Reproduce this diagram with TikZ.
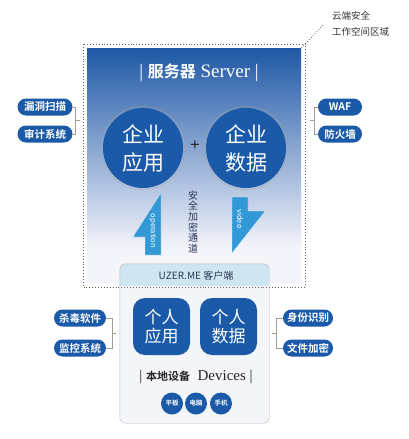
\documentclass[tikz,border=0pt]{standalone}
\usepackage{fontspec}
\setmainfont{Liberation Serif}
\newfontfamily\cjk{Noto Sans CJK SC}
\newfontfamily\cjkb{Noto Sans CJK SC Bold}
\usetikzlibrary{calc}

\definecolor{srvblue}{HTML}{1E58A6}
\definecolor{srvmid}{HTML}{8FA6DC}
\definecolor{srvlow}{HTML}{F4F4FB}
\definecolor{pillblue}{HTML}{1A5AA8}
\definecolor{arrowblue}{HTML}{3398D6}
\definecolor{hdrblue}{HTML}{CFE5F1}
\definecolor{cltgray}{HTML}{F4F5F8}
\definecolor{brkgray}{HTML}{A39C92}
\definecolor{txtnavy}{HTML}{2B3A55}

\tikzset{
  pill/.style={fill=pillblue, text=white, rounded corners=8.5pt, minimum height=17pt,
    inner xsep=2pt, inner ysep=0pt, font=\cjkb\fontsize{10.5}{12}\selectfont},
  bigdisc/.style={circle, fill=pillblue, minimum size=80pt, inner sep=0pt, text=white,
    align=center, font=\cjk\fontsize{21}{28}\selectfont},
  ring/.style={draw=gray!70, densely dotted, line width=0.8pt},
  ownbox/.style={fill=pillblue, rounded corners=12pt, minimum width=57pt, minimum height=57pt,
    inner sep=0pt, text=white, align=center, font=\cjk\fontsize{17}{19}\selectfont},
  devdisc/.style={circle, fill=pillblue, minimum size=22pt, inner sep=0pt, text=white,
    font=\cjkb\fontsize{6.5}{7}\selectfont},
  flowarrow/.style={fill=arrowblue, draw=white!80!arrowblue, densely dotted, line width=0.6pt},
  brk/.style={draw=brkgray, line width=0.6pt},
  zone/.style={draw=gray!80!black, dotted, line width=0.9pt},
}

\begin{document}
\begin{tikzpicture}[x=1pt, y=-1pt]
  \useasboundingbox (0,0) rectangle (408,439);
  \fill[white] (0,0) rectangle (408,439);

  % cloud side
  \shade[top color=srvblue, middle color=srvmid, bottom color=srvlow] (87,48) rectangle (301,248);
  \fill[srvlow] (87,247.5) rectangle (301,283);
  \node[text=white, font=\fontsize{19}{21}\selectfont] (srvtitle) at (199,73)
    {\textbar\ {\cjkb\fontsize{16}{18}\selectfont 服务器} Server \textbar};

  \node[bigdisc] (entapp) at (143,148) {企业\\应用};
  \node[bigdisc] (entdata) at (246,148) {企业\\数据};
  \draw[ring] (entapp) circle (41.5);
  \draw[ring] (entdata) circle (41.5);
  \node[text=black!85, font=\fontsize{17}{17}\selectfont\bfseries] (plus) at (195,146) {+};

  \fill[flowarrow] (161,193) -- (133,237) -- (145,237) -- (145,255) -- (161,255) -- cycle;
  \fill[flowarrow] (232,197) -- (248,197) -- (248,211) -- (265,211) -- (232,253) -- cycle;
  \node[rotate=-90, text=white, font=\cjk\fontsize{7.5}{8}\selectfont] (oplbl) at (153,231) {operation};
  \node[rotate=-90, text=white, font=\cjk\fontsize{7.5}{8}\selectfont] (vidlbl) at (240,219) {video};
  \node[text=txtnavy, align=center, font=\cjk\fontsize{10}{10.6}\selectfont] (tunnel) at (193,222)
    {安\\全\\加\\密\\通\\道};

  % client side
  \node[fill=cltgray, rounded corners=5pt, minimum width=149pt, minimum height=159pt] (client) at (194.5,343.5) {};
  \begin{scope}
    \clip[rounded corners=5pt] (client.south west) rectangle (client.north east);
    \fill[hdrblue] (client.north west) rectangle ([yshift=-22pt]client.north east);
  \end{scope}
  \draw[gray!55, rounded corners=5pt] (client.south west) rectangle (client.north east);
  \node[text=txtnavy, font=\cjk\fontsize{10}{12}\selectfont] (clienthdr) at (196,276) {UZER.ME 客户端};

  \node[ownbox] (ownapp) at (161.5,326.5) {个人\\应用};
  \node[ownbox] (owndata) at (228.5,326.5) {个人\\数据};
  \node[text=black!85, font=\fontsize{15}{17}\selectfont] (devtitle) at (196,377)
    {\textbar\ {\cjkb\fontsize{11}{13}\selectfont 本地设备}\ \ Devices \textbar};
  \foreach \name/\x/\t in {tablet/172/平板, laptop/196/电脑, phone/221/手机}
    \node[devdisc] (\name) at (\x,403.5) {\t};

  % zone outline and callout
  \draw[zone] (83,44) rectangle (305,287);
  \node[align=left, anchor=west, inner sep=0pt, text=black!80,
    font=\cjk\fontsize{9.5}{16}\selectfont] (cloud) at (332,24) {云端安全\\工作空间区域};
  \coordinate (cloudtip) at (290,60);
  \draw[zone, line width=0.8pt] ([xshift=-9pt,yshift=-1pt]cloud.west) -- (cloudtip);

  % side tools
  \node[pill, minimum width=55pt] (scan) at (45,107) {漏洞扫描};
  \node[pill, minimum width=55pt] (audit) at (45,134) {审计系统};
  \node[pill, minimum width=44pt] (waf) at (340,107) {WAF};
  \node[pill, minimum width=44pt] (firewall) at (340,134) {防火墙};
  \node[pill, minimum width=52pt] (antivirus) at (80,318) {杀毒软件};
  \node[pill, minimum width=52pt] (monitor) at (80,348) {监控系统};
  \node[pill, minimum width=50pt] (identity) at (308,318) {身份识别};
  \node[pill, minimum width=50pt] (encrypt) at (308,348) {文件加密};

  \draw[brk] (scan.east) -- ++(3,0) |- (audit.east);
  \draw[brk] ($(scan.east)!.5!(audit.east)$) ++(3,0) -- ++(4,0);
  \draw[brk] (waf.west) -- ++(-4,0) |- (firewall.west);
  \draw[brk] ($(waf.west)!.5!(firewall.west)$) ++(-4,0) -- ++(-4,0);
  \draw[brk] (antivirus.east) -- ++(6,0) |- (monitor.east);
  \draw[brk] ($(antivirus.east)!.5!(monitor.east)$) ++(6,0) -- ++(4,0);
  \draw[brk] (identity.west) -- ++(-7,0) |- (encrypt.west);
  \draw[brk] ($(identity.west)!.5!(encrypt.west)$) ++(-7,0) -- ++(-4,0);
\end{tikzpicture}
\end{document}
